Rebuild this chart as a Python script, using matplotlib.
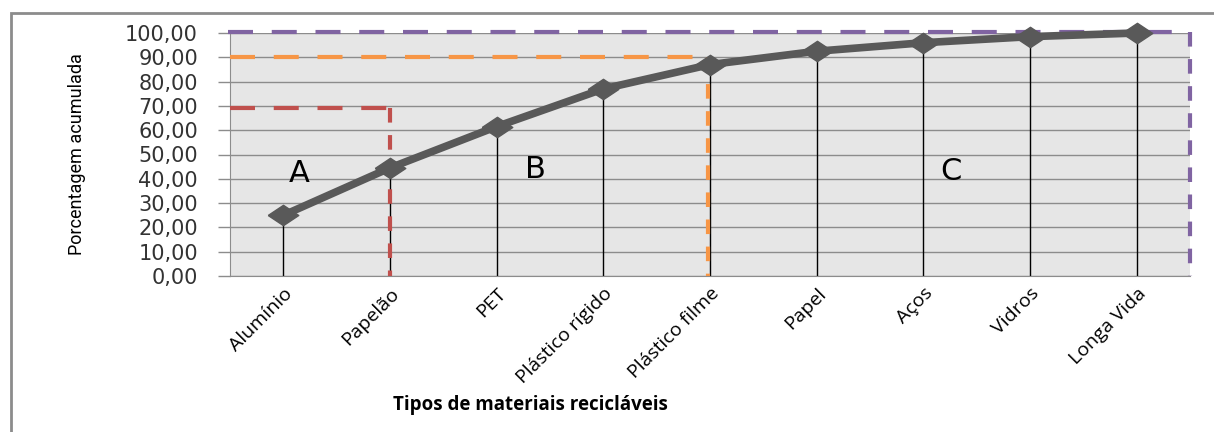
import matplotlib.pyplot as plt
from matplotlib.patches import Rectangle

materiais = ['Alumínio', 'Papelão', 'PET', 'Plástico rígido', 'Plástico filme',
             'Papel', 'Aços', 'Vidros', 'Longa Vida']
acumulada = [25.0, 44.5, 61.5, 77.0, 87.0, 92.5, 96.0, 98.5, 100.0]

# limites das classes A, B, C (corte em y e categoria onde termina)
corte_a, fim_a = 69, 1
corte_b, fim_b = 90, 3.98
corte_c, fim_c = 100.5, 8.5

letras = ['A', 'B', 'C']
letras_x = [0.15, 2.36, 6.26]
letras_y = [42, 44, 43]

fig = plt.figure(figsize=(12.14, 4.32), dpi=100)
fig.patches.append(Rectangle((11 / 1214, -0.1), 1.2, (432 - 13) / 432 + 0.1,
                             transform=fig.transFigure, fill=False,
                             edgecolor='#8c8c8c', linewidth=2))

ax = fig.add_axes([230 / 1214, 156 / 432, 960 / 1214, 243 / 432])
ax.set_facecolor('#e6e6e6')
x = list(range(len(materiais)))

ax.set_xlim(-0.5, len(materiais) - 0.5)
ax.set_ylim(0, 100)
ax.set_yticks(range(0, 101, 10))
ax.set_yticklabels(['%d,00' % v for v in range(0, 101, 10)],
                   fontsize=15, family='DejaVu Sans', color='#333333')
ax.yaxis.grid(True, color='#8c8c8c', linewidth=1)
ax.set_axisbelow(True)
ax.tick_params(axis='y', length=9, color='#8c8c8c', width=1, pad=14)
ax.tick_params(axis='x', length=0, pad=6)
ax.set_xticks(x)
ax.set_xticklabels(materiais, rotation=45, ha='right', rotation_mode='anchor',
                   fontsize=14, family='Open Sans')
for s in ['top', 'right']:
    ax.spines[s].set_visible(False)
ax.spines['left'].set_color('#8c8c8c')
ax.spines['bottom'].set_color('#8c8c8c')

# linhas de chamada até o eixo
ax.vlines(x, 0, acumulada, color='black', linewidth=1, zorder=2)

# limites tracejados
ax.plot([-0.5, fim_a], [corte_a, corte_a], color='#c0504d', linewidth=3,
        dashes=(6, 4.5), zorder=3)
ax.plot([fim_a, fim_a], [corte_a, 0], color='#c0504d', linewidth=3,
        dashes=(3.5, 3), zorder=3)
ax.plot([-0.5, fim_b], [corte_b, corte_b], color='#f79646', linewidth=3,
        dashes=(6, 4.5), zorder=3)
ax.plot([fim_b, fim_b], [corte_b, 0], color='#f79646', linewidth=3,
        dashes=(3.5, 3), zorder=3)
ax.plot([-0.52, fim_c], [corte_c, corte_c], color='#8064a2', linewidth=3,
        dashes=(6, 4.5), zorder=3, clip_on=False)
ax.plot([fim_c, fim_c], [corte_c, 0], color='#8064a2', linewidth=3,
        dashes=(3.5, 3), zorder=3, clip_on=False)

diamante = [(-1.5, 0), (0, 1), (1.5, 0), (0, -1), (-1.5, 0)]
ax.plot(x, acumulada, color='#595959', linewidth=5.5, marker=diamante,
        markersize=22, markerfacecolor='#595959', markeredgecolor='#595959',
        zorder=4, clip_on=False)

for l, lx, ly in zip(letras, letras_x, letras_y):
    ax.text(lx, ly, l, fontsize=22, family='DejaVu Sans', ha='center',
            va='center', color='black', zorder=5)

ax.set_ylabel('Porcentagem acumulada', fontsize=13, family='Roboto')
ax.yaxis.set_label_coords(-0.15, 0.5)
fig.text(530 / 1214, 1 - 405 / 432, 'Tipos de materiais recicláveis',
         fontsize=13.5, fontweight='bold', family='Open Sans',
         ha='center', va='center')

fig.savefig('out.png')
